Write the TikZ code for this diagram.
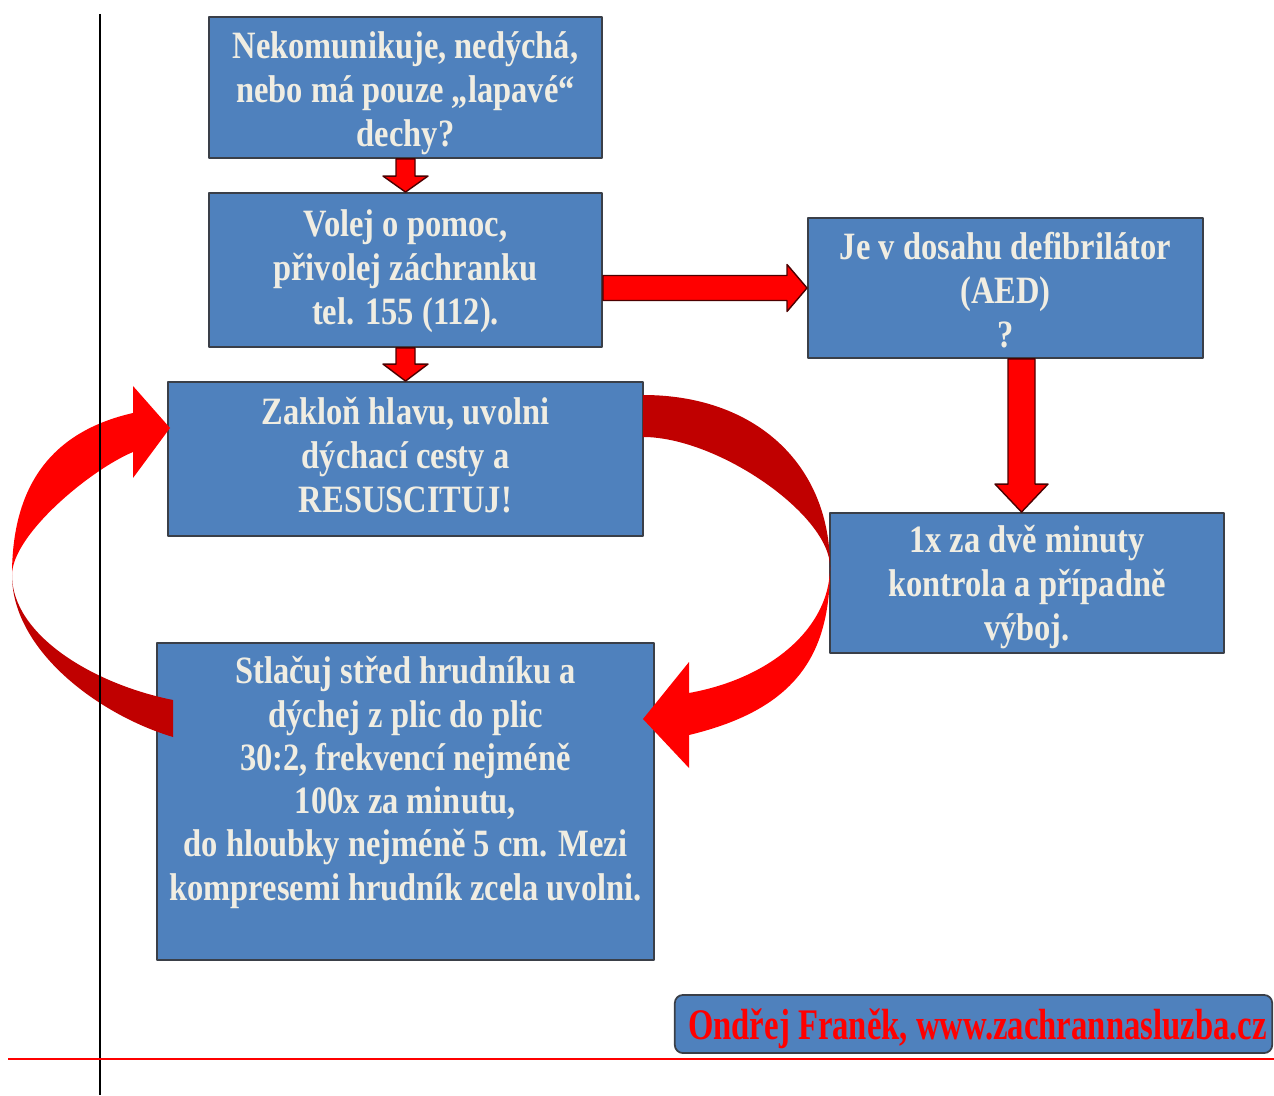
\documentclass[tikz,border=0pt]{standalone}
\usepackage{fontspec}
\setmainfont{Liberation Serif}[FakeStretch=0.84]
\newfontfamily\creditfont{Liberation Serif}[FakeStretch=0.75]
\usetikzlibrary{calc}
\definecolor{boxblue}{HTML}{4F81BD}
\definecolor{boxedge}{HTML}{3A3F48}
\definecolor{creamtext}{HTML}{F0EDE2}
\definecolor{backred}{HTML}{C00000}

% block arrows: start, end, shaft half width, head half width, head length
\newcommand{\arrowdown}[5]{%
  \filldraw[blockarrow] ($(#1)+(-#3,0)$) -- ($(#2)+(-#3,-#5)$) -- ($(#2)+(-#4,-#5)$) -- (#2)
    -- ($(#2)+(#4,-#5)$) -- ($(#2)+(#3,-#5)$) -- ($(#1)+(#3,0)$) -- cycle;}
\newcommand{\arrowright}[5]{%
  \filldraw[blockarrow] ($(#1)+(0,-#3)$) -- ($(#2)+(-#5,-#3)$) -- ($(#2)+(-#5,-#4)$) -- (#2)
    -- ($(#2)+(-#5,#4)$) -- ($(#2)+(-#5,#3)$) -- ($(#1)+(0,#3)$) -- cycle;}

\begin{document}
\begin{tikzpicture}[x=0.01cm, y=-0.01cm, line join=round,
    box/.style={draw=boxedge, line width=0.5pt, fill=boxblue, inner sep=0pt},
    boxlabel/.style={text=creamtext, inner sep=0pt, align=center,
      font=\bfseries\fontsize{11}{12.5}\selectfont},
    blockarrow/.style={fill=red, draw=red!30!black, line width=0.4pt}]
  \useasboundingbox (0,0) rectangle (1274,1095);

  \node[box, minimum width=3.93cm, minimum height=1.41cm] (ask) at (405.5,87.5) {};
  \node[box, minimum width=3.93cm, minimum height=1.54cm] (call) at (405.5,270) {};
  \node[box, minimum width=3.95cm, minimum height=1.40cm] (aed) at (1005.5,288) {};
  \node[box, minimum width=4.75cm, minimum height=1.54cm] (cpr) at (405.5,459) {};
  \node[box, minimum width=3.94cm, minimum height=1.40cm] (check) at (1027,583) {};
  \node[box, minimum width=4.97cm, minimum height=3.17cm] (press) at (405.5,801.5) {};
  \node[box, rounded corners=0.08cm, minimum width=5.97cm, minimum height=0.58cm] (credit) at (973.5,1024) {};

  \node[boxlabel] (ask-t) at ($(ask)+(0,6)$) {Nekomunikuje, nedýchá,\\ nebo má pouze „lapavé“\\ dechy?};
  \node[boxlabel] (call-t) at ($(call)+(0,1)$) {Volej o pomoc,\\ přivolej záchranku\\ tel. 155 (112).};
  \node[boxlabel] (aed-t) at ($(aed)+(0,2)$) {Je v dosahu defibrilátor\\ (AED)\\ ?};
  \node[boxlabel] (cpr-t) at ($(cpr)+(0,-4)$) {Zakloň hlavu, uvolni\\ dýchací cesty a\\ RESUSCITUJ!};
  \node[boxlabel] (check-t) at ($(check)+(0,4)$) {1x za dvě minuty\\ kontrola a případně\\ výboj.};
  \node[boxlabel, font=\bfseries\fontsize{11}{12.3}\selectfont] (press-t) at ($(press)+(0,5)$)
    {Stlačuj střed hrudníku a\\ dýchej z plic do plic\\ 30:2, frekvencí nejméně\\ 100x za minutu,\\
     do hloubky nejméně 5 cm. Mezi\\ kompresemi hrudník zcela uvolni.\\ \strut};
  \node[boxlabel, text=red, font=\creditfont\bfseries\fontsize{12.4}{14}\selectfont] (credit-t)
    at ($(credit)+(4,5)$) {Ondřej Franěk, www.zachrannasluzba.cz};

  % straight arrows
  \arrowdown{ask.south}{call.north}{9.5}{22.5}{16}
  \arrowdown{call.south}{cpr.north}{9.5}{22.5}{17}
  \coordinate (s3) at (call.east |- aed.west);
  \arrowright{s3}{aed.west}{12.5}{23.5}{20}
  \coordinate (s4) at ([xshift=0.16cm]aed.south);
  \coordinate (e4) at (s4 |- check.north);
  \arrowdown{s4}{e4}{13.5}{26.5}{28}

  % loop back to cpr
  \fill[backred] (12,575) .. controls (12,650) and (98,714.5) .. (173,737)
    -- (173,700) .. controls (93,684) and (12,635) .. (12,575) -- cycle;
  \fill[red] (12,575) .. controls (12,485) and (52,431.5) .. (133,413)
    -- (133,386) -- (170,428) -- (133,478) -- (133,452)
    .. controls (90,470) and (12,535) .. (12,575) -- cycle;

  % loop down to press
  \fill[backred] (643,395) .. controls (755,395) and (830,464) .. (830,567)
    .. controls (830,515) and (718,437) .. (643,437) -- cycle;
  \fill[red] (830,567) .. controls (830,652) and (799,708.6) .. (689,735)
    -- (689,768) -- (643,719) -- (689,662) -- (689,693)
    .. controls (772,678) and (830,627) .. (830,567) -- cycle;

  \draw[line width=0.6pt] (100,14) -- (100,1095);
  \draw[red, line width=0.6pt] (8,1059) -- (1274,1059);
\end{tikzpicture}
\end{document}
